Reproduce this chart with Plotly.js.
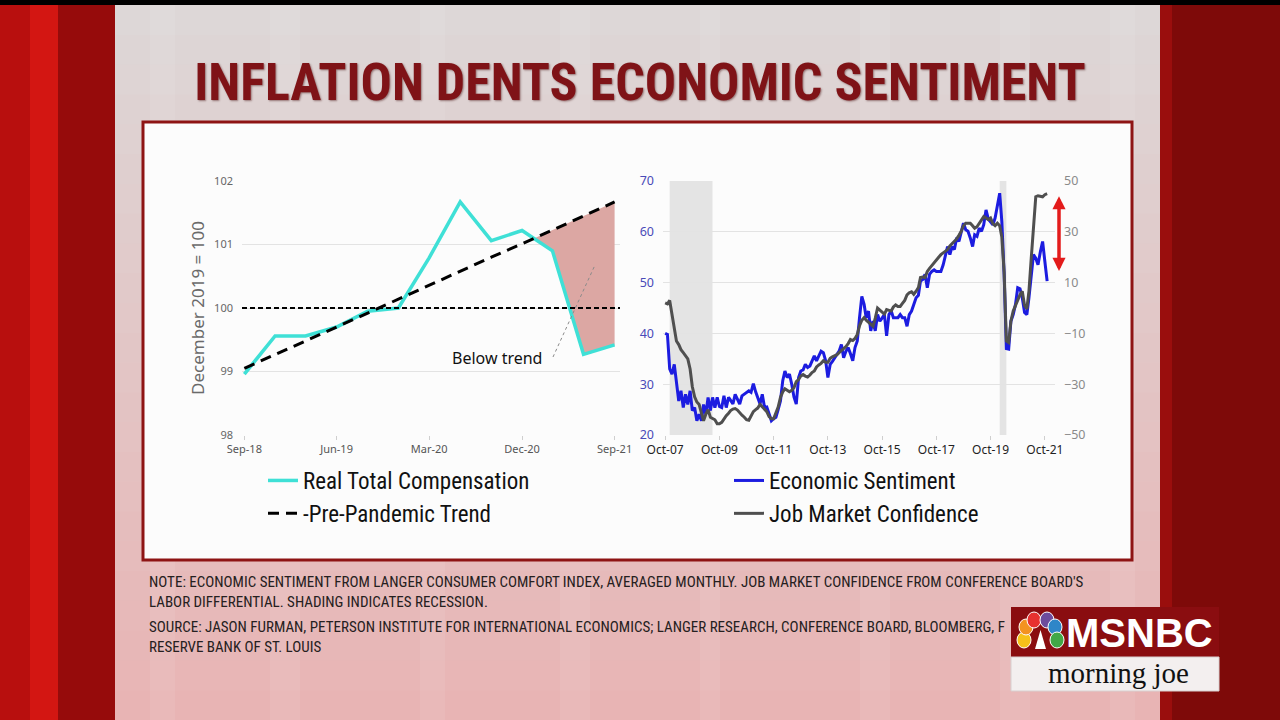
<!DOCTYPE html>
<html><head><meta charset="utf-8">
<script src="https://cdn.plot.ly/plotly-3.0.1.min.js"></script>
<style>html,body{margin:0;padding:0;background:#000;overflow:hidden}#chart{width:1280px;height:720px}</style>
</head><body><div id="chart"></div>
<script>
// ---------- LEFT PANEL DATA (quarterly) ----------
const compQuarters = ['2018-09-01','2018-12-01','2019-03-01','2019-06-01','2019-09-01','2019-12-01','2020-03-01','2020-06-01','2020-09-01','2020-12-01','2021-03-01','2021-06-01','2021-09-01'];
const realComp = [98.96, 99.56, 99.56, 99.70, 99.95, 100.0, 100.79, 101.67, 101.06, 101.22, 100.90, 99.27, 99.42];
const preTrend = [99.05, 99.27, 99.49, 99.70, 99.92, 100.14, 100.36, 100.58, 100.80, 101.01, 101.23, 101.45, 101.67];
const baseline = 100;
const leftTickVals = ['2018-09-01','2019-06-01','2020-03-01','2020-12-01','2021-09-01'];
const leftTickText = ['Sep-18','Jun-19','Mar-20','Dec-20','Sep-21'];

// ---------- RIGHT PANEL DATA (monthly, starting Oct-2007) ----------
const monthStart = [2007, 10];
const econSentiment = [
 40, 39.8, 33, 32, 33.9, 30.7, 26.7, 28.7, 25.4, 28, 26, 28.7,
 24.8, 25.4, 22.8, 24.1, 22.8, 26, 24.1, 27.4, 24.8, 27.4, 25.4, 27.4,
 25.6, 25.4, 27.7, 25.4, 27.4, 26.8, 26.1, 28, 27, 26.1, 27.7, 28,
 28.3, 28.7, 28.4, 30.1, 28.5, 27.4, 26.1, 28, 25.4, 25.5, 24.1, 22.8,
 23.2, 23.5, 25, 26.7, 30.7, 32.6, 31.3, 32, 30, 27.5, 26.1, 31.3,
 32.6, 32.8, 33.9, 33.3, 33.6, 34.6, 35.6, 34.6, 35.5, 36.5, 36.2, 34.6,
 31.3, 33.9, 34.5, 35.2, 35.9, 36.5, 37.8, 35.2, 36.5, 37.2, 36, 34.6,
 37.2, 38.5, 43.1, 47.3, 45.7, 43.1, 44.4, 40.5, 42.4, 40.5, 43.7, 42.4,
 43, 43.7, 39.5, 43.7, 44.4, 43.1, 43.1, 43.1, 43.7, 43.1, 43.1, 41.4,
 43.7, 44.4, 45.7, 47, 47.5, 50.3, 50.6, 51.6, 49, 51.6, 52.2, 52.5,
 52.2, 52.2, 52.2, 53.5, 55.5, 57.1, 55.5, 57.1, 56.5, 58.8, 58.1, 60.1,
 61.7, 60.4, 60.1, 58.8, 57.1, 59.4, 59.1, 60.7, 60.1, 61.4, 64.3, 62.5,
 62, 61.4, 62.7, 65.3, 67.6, 62, 51.6, 37, 36.9, 42.4, 43.7, 45.7,
 49, 48.8, 47, 44.1, 43.7, 47, 51.6, 55.5, 54.8, 53.5, 56, 58.1, 54.2, 50.3];
const jobConfidence = [
 2, 1.6, 3, -3, -9, -13, -14.4, -16.4, -17.6, -18.8, -20, -24,
 -31, -35, -37, -38, -41, -44.4, -41.8, -40, -43, -43.6, -44, -45.6,
 -45.6, -45, -43.6, -42.4, -41.4, -40.4, -39.8, -39.6, -40.2, -41.4, -42.2, -43,
 -44, -44.2, -42.8, -40.8, -40, -39.4, -38, -38.8, -40, -40.8, -42.8, -43.6,
 -43.6, -41, -39, -35.2, -33, -31.8, -32.6, -33, -32.4, -31.4, -29, -28.2,
 -26.8, -26.2, -26.8, -27.2, -26.4, -25.4, -24.8, -23.2, -22.4, -21.8, -20.8, -21.4,
 -21.4, -19.8, -19.2, -18.8, -18.4, -17.6, -16.8, -16.2, -15.2, -14, -12.4, -12.8,
 -12, -10.4, -7, -4.8, -3.8, -4.8, -5.6, -6.4, -7.2, -4, 0, -0.8,
 -1.6, -2.4, -0.6, -0.8, -1.2, 0.4, 1.2, 0.6, 0.6, 1.8, 3, 5.2,
 6, 6.4, 5.4, 6.6, 8, 12, 12.2, 12, 14.4, 15.6, 16.8, 17.8,
 19, 20, 21, 21.8, 22.6, 23, 24.4, 25.2, 26.2, 27.2, 28.6, 30.2,
 32.4, 33.4, 33.4, 33.4, 32.4, 31.4, 32, 33.2, 34.4, 36, 35.4, 34.8,
 35.4, 33.2, 32.4, 33.4, 32.4, 28, 14, -13, -13.6, -5.2, -1.2, 1,
 2.6, 5.2, 6.6, 1, -0.4, 6.6, 19.6, 32.8, 43.8, 44.2, 44, 43.8, 44.6, 45];
const recessionStarts = ['2007-12-01', '2020-02-01'];
const recessionEnds = ['2009-06-30', '2020-05-01'];
const rightTickVals = ['2007-10-01','2009-10-01','2011-10-01','2013-10-01','2015-10-01','2017-10-01','2019-10-01','2021-10-01'];
const rightTickText = ['Oct-07','Oct-09','Oct-11','Oct-13','Oct-15','Oct-17','Oct-19','Oct-21'];
const gapArrow = [44, 14]; // job-confidence-axis values of the red gap arrow

// ---------- helpers ----------
const W = 1280, H = 720;
const px = x => x / W, py = y => 1 - y / H;
function monthDates(n) {
  const out = [];
  for (let i = 0; i < n; i++) {
    const t = (monthStart[1] - 1) + i;
    const yr = monthStart[0] + Math.floor(t / 12), mo = (t % 12) + 1;
    out.push(yr + '-' + String(mo).padStart(2, '0') + '-01');
  }
  return out;
}
const econDates = monthDates(econSentiment.length);
const jobDates = monthDates(jobConfidence.length);

// shaded "below trend" polygon, from the last point where realComp falls under preTrend
function belowTrendPolygon() {
  const t = compQuarters.map(d => new Date(d).getTime());
  for (let i = realComp.length - 2; i >= 0; i--) {
    const d0 = realComp[i] - preTrend[i], d1 = realComp[i + 1] - preTrend[i + 1];
    if (d0 > 0 && d1 < 0) {
      const f = d0 / (d0 - d1);
      const xc = new Date(t[i] + f * (t[i + 1] - t[i])).toISOString().slice(0, 10);
      const yc = preTrend[i] + f * (preTrend[i + 1] - preTrend[i]);
      const xs = [xc], ys = [yc];
      for (let j = i + 1; j < realComp.length; j++) { xs.push(compQuarters[j]); ys.push(preTrend[j]); }
      for (let j = realComp.length - 1; j > i; j--) { xs.push(compQuarters[j]); ys.push(realComp[j]); }
      xs.push(xc); ys.push(yc);
      return {x: xs, y: ys};
    }
  }
  return {x: [], y: []};
}
const poly = belowTrendPolygon();

const CF = 'Noto Sans, DejaVu Sans, sans-serif';
const NARROW = 'Liberation Sans Narrow, Arial Narrow, Roboto Condensed, Liberation Sans, sans-serif';

// ---------- traces ----------
const traces = [
  {x: poly.x, y: poly.y, xaxis: 'x', yaxis: 'y', type: 'scatter', mode: 'lines', fill: 'toself',
   fillcolor: '#dca7a3', line: {width: 0, color: 'rgba(0,0,0,0)'}, showlegend: false, hoverinfo: 'skip'},
  {x: compQuarters, y: realComp, xaxis: 'x', yaxis: 'y', type: 'scatter', mode: 'lines',
   name: 'Real Total Compensation', line: {color: '#3fe0d6', width: 3.5}, legend: 'legend', legendgroup: 'a'},
  {x: compQuarters, y: preTrend, xaxis: 'x', yaxis: 'y', type: 'scatter', mode: 'lines',
   name: '-Pre-Pandemic Trend', line: {color: '#000', width: 3, dash: '11px,7px'}, legend: 'legend', legendgroup: 'b'},
  {x: econDates, y: econSentiment, xaxis: 'x2', yaxis: 'y3', type: 'scatter', mode: 'lines',
   name: 'Economic Sentiment', line: {color: '#1c1ce0', width: 3}, legend: 'legend2', legendgroup: 'c'},
  {x: jobDates, y: jobConfidence, xaxis: 'x2', yaxis: 'y4', type: 'scatter', mode: 'lines',
   name: 'Job Market Confidence', line: {color: '#4f4f4f', width: 3}, legend: 'legend2', legendgroup: 'd'}
];

// ---------- background shapes ----------
const shapes = [];
function rect(x0, y0, x1, y1, fill, extra) {
  shapes.push(Object.assign({type: 'rect', xref: 'paper', yref: 'paper', x0: px(x0), x1: px(x1), y0: py(y1), y1: py(y0),
    fillcolor: fill, line: {width: 0}, layer: 'below'}, extra || {}));
}
rect(0, 0, 1280, 720, '#000');
const N = 24;
for (let i = 0; i < N; i++) {
  const f = i / (N - 1);
  const r = Math.round(221 + f * (232 - 221)), g = Math.round(215 + f * (180 - 215)), b = Math.round(215 + f * (180 - 215));
  rect(115, 5 + i * (715 / N), 1160, 5 + (i + 1) * (715 / N) + 1, `rgb(${r},${g},${b})`);
}
[[150, 175], [270, 300], [420, 445], [560, 590], [700, 720], [860, 890], [1000, 1030], [1110, 1135]].forEach(s =>
  rect(s[0], 5, s[1], 720, 'rgba(255,255,255,0.08)'));
rect(0, 5, 30, 720, '#b80f0e');
rect(30, 5, 58, 720, '#d31612');
rect(58, 5, 115, 720, '#960b0b');
rect(1160, 5, 1172, 720, '#9a0e0d');
rect(1172, 5, 1280, 720, '#7e0a09');
rect(143, 122, 1132, 560, '#fcfcfc', {line: {color: '#8e1414', width: 3}});
rect(1011, 607, 1219, 657, '#8a0d10');
rect(1011, 657, 1219, 691, '#f3efef', {line: {color: '#d8d0d0', width: 1}});

const feathers = [[1024, 640, '#f6c21a'], [1026, 627, '#f39321'], [1034, 620, '#e7312f'], [1047, 620, '#6d4c9d'], [1055, 627, '#2f86c8'], [1057, 640, '#41a847']];
feathers.forEach(f => shapes.push({type: 'circle', xref: 'paper', yref: 'paper', layer: 'above',
  x0: px(f[0] - 7), x1: px(f[0] + 7), y0: py(f[1] + 8), y1: py(f[1] - 8), fillcolor: f[2], line: {color: '#fff', width: 1}}));
shapes.push({type: 'path', xref: 'paper', yref: 'paper', layer: 'above', fillcolor: '#fff', line: {width: 0},
  path: `M ${px(1035)} ${py(649)} L ${px(1040.5)} ${py(630)} L ${px(1046)} ${py(649)} Z`});

recessionStarts.forEach((s, i) => shapes.push({type: 'rect', xref: 'x2', yref: 'y3 domain', x0: s, x1: recessionEnds[i],
  y0: 0, y1: 1, fillcolor: '#e4e4e4', line: {width: 0}, layer: 'below'}));
shapes.push({type: 'line', xref: 'x domain', yref: 'y', x0: 0, x1: 1, y0: baseline, y1: baseline,
  line: {color: '#000', width: 2, dash: '5px,3px'}, layer: 'above'});
shapes.push({type: 'line', xref: 'paper', yref: 'paper', x0: px(553), y0: py(357), x1: px(595), y1: py(265),
  line: {color: '#8a8a8a', width: 1, dash: 'dot'}, layer: 'above'});

// ---------- annotations ----------
function note(text, ytop) {
  return {xref: 'paper', yref: 'paper', x: px(147), y: py(ytop), xanchor: 'left', yanchor: 'top', align: 'left',
    showarrow: false, text: text, font: {family: NARROW, size: 15, color: '#252020'}};
}
const annotations = [
  {xref: 'paper', yref: 'paper', x: px(497), y: py(358), xanchor: 'center', yanchor: 'middle', text: 'Below trend', showarrow: false,
   font: {family: CF, size: 16, color: '#111'}},
  {xref: 'paper', yref: 'y4', x: px(1059), y: gapArrow[0], ax: 0, ay: (gapArrow[0] - gapArrow[1]) * 2.54,
   text: '', showarrow: true, arrowside: 'end+start', arrowhead: 2, arrowsize: 0.75, arrowwidth: 3.5, arrowcolor: '#e31b1b'},
  note('NOTE: ECONOMIC SENTIMENT FROM LANGER CONSUMER COMFORT INDEX, AVERAGED MONTHLY. JOB MARKET CONFIDENCE FROM CONFERENCE BOARD\'S<br>LABOR DIFFERENTIAL. SHADING INDICATES RECESSION.', 571),
  note('SOURCE: JASON FURMAN, PETERSON INSTITUTE FOR INTERNATIONAL ECONOMICS; LANGER RESEARCH, CONFERENCE BOARD, BLOOMBERG, F<br>RESERVE BANK OF ST. LOUIS', 616),
  {xref: 'paper', yref: 'paper', x: px(1139), y: py(633), xanchor: 'center', yanchor: 'middle', text: '<b>MSNBC</b>', showarrow: false,
   font: {family: 'Liberation Sans, Arial, sans-serif', size: 40, color: '#fff'}},
  {xref: 'paper', yref: 'paper', x: px(1118), y: py(673), xanchor: 'center', yanchor: 'middle', text: 'morning joe', showarrow: false,
   font: {family: 'Liberation Serif, DejaVu Serif, serif', size: 29, color: '#111'}}
];

const gridc = '#e3e3e3';
const legendFont = {family: NARROW, size: 23, color: '#111'};
const layout = {
  width: W, height: H, margin: {l: 0, r: 0, t: 0, b: 0, pad: 0},
  paper_bgcolor: '#000', plot_bgcolor: 'rgba(0,0,0,0)',
  title: {text: 'INFLATION DENTS ECONOMIC SENTIMENT', x: 0.5, xanchor: 'center', y: py(82), yanchor: 'middle',
    yref: 'container', font: {family: NARROW, size: 52, weight: 700, color: '#7f1317', shadow: '1px 1px 2px rgba(60,0,0,0.45)'}},
  xaxis: {domain: [px(242), px(620)], anchor: 'y', type: 'date', range: ['2018-08-25', '2021-09-17'],
    tickvals: leftTickVals, ticktext: leftTickText, showgrid: false, zeroline: false, showline: false,
    ticks: 'outside', ticklen: 4, tickcolor: '#cfcfcf', tickfont: {family: CF, size: 11, color: '#555'}},
  yaxis: {domain: [py(435), py(181)], anchor: 'x', range: [98, 102], dtick: 1, showgrid: true, gridcolor: gridc,
    zeroline: false, showline: false, ticks: '', tickfont: {family: CF, size: 11, color: '#666'}, ticklabelstandoff: 8,
    title: {text: 'December 2019 = 100', font: {family: CF, size: 17, color: '#6a6a6a'}, standoff: 5}},
  xaxis2: {domain: [px(663), px(1055)], anchor: 'y3', type: 'date', range: ['2007-09-02', '2022-02-15'],
    tickvals: rightTickVals, ticktext: rightTickText, showgrid: false, zeroline: false, showline: false,
    ticks: 'outside', ticklen: 4, tickcolor: '#cfcfcf', tickfont: {family: CF, size: 12, color: '#222'}},
  yaxis3: {domain: [py(435), py(181)], anchor: 'x2', range: [20, 70], dtick: 10, showgrid: true, gridcolor: gridc,
    zeroline: false, showline: false, ticks: '', ticklabelstandoff: 8, tickfont: {family: CF, size: 12.5, color: '#4a4ab8'}},
  yaxis4: {overlaying: 'y3', anchor: 'x2', side: 'right', range: [-50, 50], tick0: -50, dtick: 20, showgrid: false,
    zeroline: false, showline: false, ticks: '', ticklabelstandoff: 8, tickfont: {family: CF, size: 12.5, color: '#8a8a8a'}},
  legend: {x: px(263), y: py(459), xanchor: 'left', yanchor: 'top', bgcolor: 'rgba(0,0,0,0)', traceorder: 'grouped',
    tracegroupgap: 0, itemwidth: 30, font: legendFont},
  legend2: {x: px(729), y: py(459), xanchor: 'left', yanchor: 'top', bgcolor: 'rgba(0,0,0,0)', traceorder: 'grouped',
    tracegroupgap: 0, itemwidth: 30, font: legendFont},
  shapes: shapes, annotations: annotations, hovermode: false, showlegend: true
};
Plotly.newPlot('chart', traces, layout, {staticPlot: true, displayModeBar: false});
</script></body></html>
